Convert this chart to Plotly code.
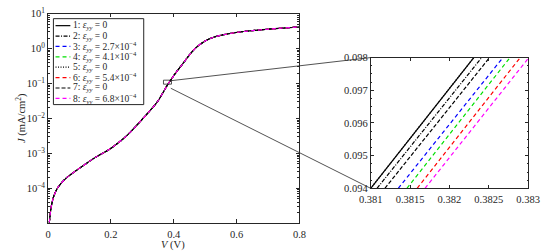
import plotly.graph_objects as go

W, H = 553, 251

# ---- data ----
V_main = [0.004, 0.010, 0.017, 0.030, 0.056, 0.096, 0.147, 0.198, 0.249, 0.290,
          0.320, 0.348, 0.3815, 0.405, 0.429, 0.450, 0.470, 0.500, 0.525, 0.554,
          0.605, 0.706, 0.800]
J_main = [1.05e-5, 2.95e-5, 5.5e-5, 1.02e-4, 1.91e-4, 3.55e-4, 7.33e-4, 1.36e-3,
          3.13e-3, 7.59e-3, 1.51e-2, 3.02e-2, 9.55e-2, 0.195, 0.372, 0.661, 1.05,
          1.66, 2.09, 2.45, 2.95, 3.63, 4.17]

series_labels = [
    "1: <i>ε</i><sub><i>yy</i></sub> = 0",
    "2: <i>ε</i><sub><i>yy</i></sub> = 0",
    "3: <i>ε</i><sub><i>yy</i></sub> = 2.7×10<sup>−4</sup>",
    "4: <i>ε</i><sub><i>yy</i></sub> = 4.1×10<sup>−4</sup>",
    "5: <i>ε</i><sub><i>yy</i></sub> = 0",
    "6: <i>ε</i><sub><i>yy</i></sub> = 5.4×10<sup>−4</sup>",
    "7: <i>ε</i><sub><i>yy</i></sub> = 0",
    "8: <i>ε</i><sub><i>yy</i></sub> = 6.8×10<sup>−4</sup>",
]
series_colors = ["#000000", "#000000", "#0000ff", "#00e000",
                 "#000000", "#ff0000", "#000000", "#ff00ff"]
series_dash = ["solid", "4px,1.5px,1px,1.5px", "4px,3px", "4px,3px",
               "1px,1.5px", "4px,3px", "4px,2px", "4px,3px"]

# inset: each series is a straight segment between J = 0.094 and J = 0.098
inset_J = [0.094, 0.098]
inset_V = [
    [0.38100, 0.38231],
    [0.38108, 0.38241],
    [0.38135, 0.38268],
    [0.38146, 0.38277],
    [0.38100, 0.38231],
    [0.38159, 0.38290],
    [0.38118, 0.38251],
    [0.38169, 0.38301],
]

main_xticks = [0, 0.2, 0.4, 0.6, 0.8]
main_xticktext = ["0", "0.2", "0.4", "0.6", "0.8"]
main_yticks = [1e-4, 1e-3, 1e-2, 1e-1, 1e0, 1e1]
main_yticktext = ["10<sup>−4</sup>", "10<sup>−3</sup>", "10<sup>−2</sup>",
                  "10<sup>−1</sup>", "10<sup>0</sup>", "10<sup>1</sup>"]
inset_xticks = [0.381, 0.3815, 0.382, 0.3825, 0.383]
inset_xticktext = ["0.381", "0.3815", "0.382", "0.3825", "0.383"]
inset_yticks = [0.094, 0.095, 0.096, 0.097, 0.098]
inset_yticktext = ["0.094", "0.095", "0.096", "0.097", "0.098"]

# ---- layout geometry (pixels) ----
FONT = "Liberation Serif"
INK = "#262626"
main_l, main_r, main_t, main_b = 37.7, 300.5, 6.0, 227.5
ins_l, ins_r, ins_t, ins_b = 375.0, 539.5, 52.5, 191.0


def px(x):
    return x / W


def py(y):
    return 1 - y / H


fig = go.Figure()

for k in range(8):
    fig.add_trace(go.Scatter(
        x=V_main, y=J_main, mode="lines", xaxis="x", yaxis="y",
        line=dict(color=series_colors[k], width=1.1, dash=series_dash[k],
                  shape="spline", smoothing=0.8),
        showlegend=False, hoverinfo="skip"))

for k in range(8):
    fig.add_trace(go.Scatter(
        x=inset_V[k], y=inset_J, mode="lines", xaxis="x2", yaxis="y2",
        line=dict(color=series_colors[k], width=1.2, dash=series_dash[k]),
        showlegend=False, hoverinfo="skip"))

axis_common = dict(showgrid=False, zeroline=False, showline=True, linecolor=INK,
                   linewidth=1, ticks="inside", mirror="allticks", tickcolor=INK,
                   tickwidth=1, tickfont=dict(family=FONT, size=10.5, color=INK))

fig.update_layout(
    width=W, height=H, margin=dict(l=0, r=0, t=0, b=0),
    paper_bgcolor="white", plot_bgcolor="white", showlegend=False,
    font=dict(family=FONT, color=INK),
    xaxis=dict(axis_common, domain=[px(main_l), px(main_r)], range=[0, 0.8],
               tickmode="array", tickvals=main_xticks, ticktext=main_xticktext,
               ticklen=3.5, ticklabelstandoff=2),
    yaxis=dict(axis_common, domain=[py(main_b), py(main_t)], type="log",
               range=[-4.986, 1.0], tickmode="array", tickvals=main_yticks,
               ticktext=main_yticktext, ticklen=3.5,
               minor=dict(ticks="inside", dtick="D1", ticklen=2, tickcolor=INK,
                          showgrid=False)),
    xaxis2=dict(axis_common, domain=[px(ins_l), px(ins_r)], range=[0.381, 0.383],
                anchor="y2", tickmode="array", tickvals=inset_xticks,
                ticktext=inset_xticktext, ticklen=3, ticklabelstandoff=1),
    yaxis2=dict(axis_common, domain=[py(ins_b), py(ins_t)], range=[0.094, 0.098],
                anchor="x2", tickmode="array", tickvals=inset_yticks,
                ticktext=inset_yticktext, ticklen=3,
                minor=dict(ticks="inside", dtick=0.00025, ticklen=1.5,
                           tickcolor=INK, showgrid=False)),
)

shapes = []
annotations = []

# legend (manual, to match the compact row spacing)
leg_l, leg_r, leg_t, leg_b = 43.3, 137.7, 11.3, 102.3
shapes.append(dict(type="rect", xref="paper", yref="paper",
                   x0=px(leg_l), x1=px(leg_r), y0=py(leg_b), y1=py(leg_t),
                   line=dict(color=INK, width=1), fillcolor="white", layer="above"))
for k in range(8):
    yy = 18.7 + 11.0 * k
    shapes.append(dict(type="line", xref="paper", yref="paper",
                       x0=px(45.5), x1=px(61.0), y0=py(yy), y1=py(yy),
                       line=dict(color=series_colors[k], width=1.2,
                                 dash=series_dash[k]), layer="above"))
    annotations.append(dict(text=series_labels[k], xref="paper", yref="paper",
                            x=px(62.0), y=py(yy), xanchor="left", yanchor="middle",
                            showarrow=False,
                            font=dict(family=FONT, size=9.5, color=INK)))

# zoom marker rectangle on the main curve
shapes.append(dict(type="rect", xref="x", yref="y",
                   xsizemode="pixel", ysizemode="pixel",
                   xanchor=0.380, yanchor=0.096, x0=-4, x1=4, y0=-4, y1=4,
                   line=dict(color=INK, width=0.8), layer="above"))
# connector lines to the inset
shapes.append(dict(type="line", xref="paper", yref="paper",
                   x0=px(166.0), y0=py(77.0), x1=px(ins_l), y1=py(ins_t),
                   line=dict(color=INK, width=0.8)))
shapes.append(dict(type="line", xref="paper", yref="paper",
                   x0=px(166.0), y0=py(85.0), x1=px(ins_l), y1=py(ins_b),
                   line=dict(color=INK, width=0.8)))

# axis titles
annotations.append(dict(text="<i>J</i> (mA/cm<sup>2</sup>)", xref="paper",
                        yref="paper", x=px(10), y=py(117), textangle=-90,
                        xanchor="center", yanchor="middle", showarrow=False,
                        font=dict(family=FONT, size=10.5, color=INK)))
annotations.append(dict(text="<i>V</i> (V)", xref="paper", yref="paper",
                        x=px(168.5), y=py(243.0), xanchor="center", yanchor="top",
                        showarrow=False,
                        font=dict(family=FONT, size=10.5, color=INK)))

fig.update_layout(shapes=shapes, annotations=annotations)

fig.write_html("out.html")
